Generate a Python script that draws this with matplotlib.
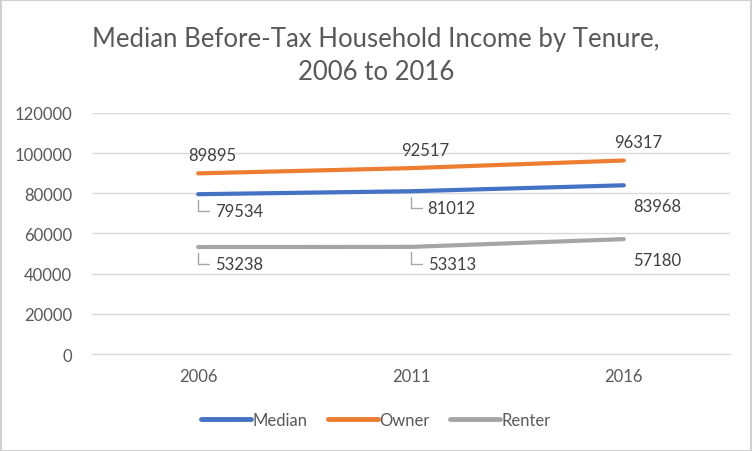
import matplotlib.pyplot as plt
from matplotlib.patches import Rectangle

years = ['2006', '2011', '2016']
median = [79534, 81012, 83968]
owner = [89895, 92517, 96317]
renter = [53238, 53313, 57180]

plt.rcParams['font.family'] = ['Lato', 'DejaVu Sans']
txt = '#595959'
grid = '#D9D9D9'

fig = plt.figure(figsize=(7.52, 4.52), dpi=100)
ax = fig.add_axes([0.122, 0.2146, 0.849, 0.5334])

x = range(len(years))
ax.plot(x, median, color='#4472C4', lw=3, label='Median', solid_capstyle='round')
ax.plot(x, owner, color='#ED7D31', lw=3, label='Owner', solid_capstyle='round')
ax.plot(x, renter, color='#A5A5A5', lw=3, label='Renter', solid_capstyle='round')

ax.set_xlim(-0.5, 2.5)
ax.set_ylim(0, 120000)
ax.set_yticks(range(0, 120001, 20000))
ax.set_xticks(list(x))
ax.set_xticklabels(years)
ax.grid(axis='y', color=grid, lw=1)
ax.set_axisbelow(True)
for s in ['top', 'right', 'left']:
    ax.spines[s].set_visible(False)
ax.spines['bottom'].set_color(grid)
ax.tick_params(axis='both', length=0, colors=txt, labelsize=12, pad=10)
ax.tick_params(axis='y', pad=14)

lab = dict(fontsize=12, color='#404040', va='center', ha='left')
leader = dict(arrowstyle='-', color='#A6A6A6', lw=1, relpos=(0, 0.5),
              connectionstyle='angle,angleA=0,angleB=90,rad=0',
              shrinkA=2, shrinkB=4)

# owner labels above
for i, v in enumerate(owner):
    ax.annotate(str(v), (i, v), xytext=(-7, 13), textcoords='offset points', **lab)

# median and renter labels below, leader lines on the first two points
for series in (median, renter):
    for i, v in enumerate(series):
        if i < 2:
            ax.annotate(str(v), (i, v), xytext=(12, -12), textcoords='offset points',
                        arrowprops=leader, **lab)
        else:
            ax.annotate(str(v), (i, v), xytext=(7, -15), textcoords='offset points', **lab)

fig.text(0.5, 0.875, 'Median Before-Tax Household Income by Tenure,\n2006 to 2016',
         ha='center', va='center', fontsize=18.5, color=txt, linespacing=1.4)

leg = fig.legend(loc='center', bbox_to_anchor=(0.5, 0.068), ncol=3, frameon=False,
                 fontsize=12, handlelength=3, handletextpad=0.1, columnspacing=1.2)
for h in leg.get_lines():
    h.set_linewidth(3.5)
for t in leg.get_texts():
    t.set_color(txt)

# faint chart frame
fig.patches.append(Rectangle((0.001, 0.001), 0.998, 0.997, transform=fig.transFigure,
                             fill=False, edgecolor='#D0D0D0', lw=1.5))

fig.savefig('out.png', dpi=100)
